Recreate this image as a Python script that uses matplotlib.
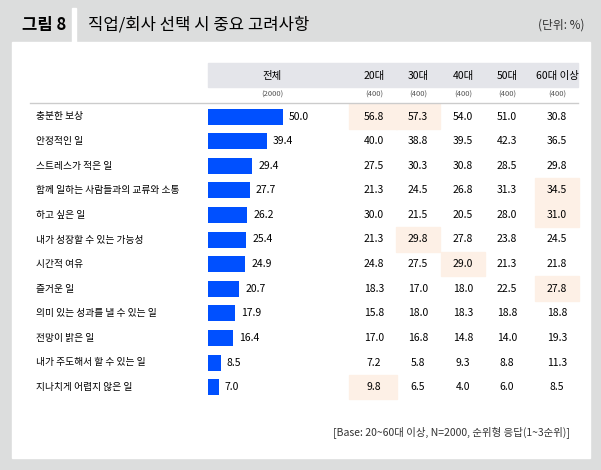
import matplotlib.pyplot as plt
from matplotlib.patches import Rectangle

plt.rcParams['font.family'] = ['Noto Sans CJK KR', 'Noto Sans CJK JP', 'Noto Sans CJK SC', 'DejaVu Sans']

categories = ['충분한 보상', '안정적인 일', '스트레스가 적은 일', '함께 일하는 사람들과의 교류와 소통',
              '하고 싶은 일', '내가 성장할 수 있는 가능성', '시간적 여유', '즐거운 일',
              '의미 있는 성과를 낼 수 있는 일', '전망이 밝은 일', '내가 주도해서 할 수 있는 일',
              '지나치게 어렵지 않은 일']
total = [50.0, 39.4, 29.4, 27.7, 26.2, 25.4, 24.9, 20.7, 17.9, 16.4, 8.5, 7.0]
ages = ['20대', '30대', '40대', '50대', '60대 이상']
age_n = ['(400)'] * 5
age_vals = [
    [56.8, 40.0, 27.5, 21.3, 30.0, 21.3, 24.8, 18.3, 15.8, 17.0, 7.2, 9.8],
    [57.3, 38.8, 30.3, 24.5, 21.5, 29.8, 27.5, 17.0, 18.0, 16.8, 5.8, 6.5],
    [54.0, 39.5, 30.8, 26.8, 20.5, 27.8, 29.0, 18.0, 18.3, 14.8, 9.3, 4.0],
    [51.0, 42.3, 28.5, 31.3, 28.0, 23.8, 21.3, 22.5, 18.8, 14.0, 8.8, 6.0],
    [30.8, 36.5, 29.8, 34.5, 31.0, 24.5, 21.8, 27.8, 18.8, 19.3, 11.3, 8.5],
]
# (column, row) cells highlighted
highlights = [(0, 0), (1, 0), (4, 3), (4, 4), (1, 5), (2, 6), (4, 7), (0, 11)]

fig = plt.figure(figsize=(6.01, 4.70), dpi=100)
fig.patch.set_facecolor('#dcdddd')
ax = fig.add_axes([0, 0, 1, 1])
ax.set_xlim(0, 601)
ax.set_ylim(470, 0)
ax.axis('off')

# panels
ax.add_patch(Rectangle((12, 42), 578, 416, color='white', zorder=0))
ax.add_patch(Rectangle((72, 8), 4, 34, color='white', zorder=0))
ax.text(22, 25, '그림 8', fontsize=12, fontweight='bold', va='center')
ax.text(88, 25, '직업/회사 선택 시 중요 고려사항', fontsize=12, va='center')
ax.text(585, 25, '(단위: %)', fontsize=8.5, va='center', ha='right', color='#333333')

# header
ax.add_patch(Rectangle((208, 63), 370, 24, color='#e4e5ea', zorder=0))
ax.plot([30, 578], [102.5, 102.5], color='#cccccc', lw=1)
col_x = [374, 418, 463, 507, 557]
ax.text(272, 76, '전체', fontsize=7.5, ha='center', va='center')
ax.text(272, 95, '(2000)', fontsize=5.5, ha='center', va='center', color='#555555')
for x, a, n in zip(col_x, ages, age_n):
    ax.text(x, 76, a, fontsize=7.5, ha='center', va='center')
    ax.text(x, 95, n, fontsize=5.5, ha='center', va='center', color='#555555')

row_y = [116.5 + 24.6 * i for i in range(len(categories))]
for c, r in highlights:
    ax.add_patch(Rectangle((col_x[c] - 25 if c == 0 else col_x[c] - 22, row_y[r] - 12.3),
                           48 if c == 0 else 44, 24.6, color='#fdf0e6', zorder=0))

ax.barh(row_y, [v * 1.5 for v in total], left=208, height=16, color='#0050ff', zorder=2)
for y, cat, v in zip(row_y, categories, total):
    ax.text(36, y, cat, fontsize=7, va='center')
    ax.text(208 + v * 1.5 + 6, y, f'{v:.1f}', fontsize=7.5, va='center')
for x, vals in zip(col_x, age_vals):
    for y, v in zip(row_y, vals):
        ax.text(x, y, f'{v:.1f}', fontsize=7.5, ha='center', va='center')

ax.text(570, 432, '[Base: 20~60대 이상, N=2000, 순위형 응답(1~3순위)]', fontsize=7.5,
        ha='right', va='center', color='#333333')

fig.savefig('out.png', dpi=100, facecolor=fig.get_facecolor())
